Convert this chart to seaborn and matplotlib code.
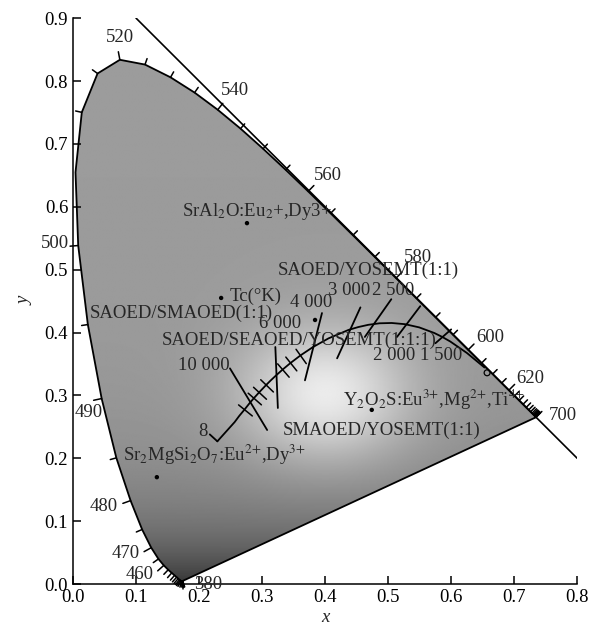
import numpy as np
import pandas as pd
import matplotlib
matplotlib.use("Agg")
import matplotlib.pyplot as plt
import seaborn as sns
from matplotlib.patches import Polygon

# CIE 1931 spectral locus, 5 nm steps
wavelength = list(range(380, 705, 5))
locus_x = [0.1741, 0.1740, 0.1738, 0.1736, 0.1733, 0.1730, 0.1726, 0.1721, 0.1714, 0.1703,
           0.1689, 0.1669, 0.1644, 0.1611, 0.1566, 0.1510, 0.1440, 0.1355, 0.1241, 0.1096,
           0.0913, 0.0687, 0.0454, 0.0235, 0.0082, 0.0039, 0.0139, 0.0389, 0.0743, 0.1142,
           0.1547, 0.1929, 0.2296, 0.2658, 0.3016, 0.3373, 0.3731, 0.4087, 0.4441, 0.4788,
           0.5125, 0.5448, 0.5752, 0.6029, 0.6270, 0.6482, 0.6658, 0.6801, 0.6915, 0.7006,
           0.7079, 0.7140, 0.7190, 0.7230, 0.7260, 0.7283, 0.7300, 0.7311, 0.7320, 0.7327,
           0.7334, 0.7340, 0.7344, 0.7346, 0.7347]
locus_y = [0.0050, 0.0050, 0.0049, 0.0049, 0.0048, 0.0048, 0.0048, 0.0048, 0.0051, 0.0058,
           0.0069, 0.0086, 0.0109, 0.0138, 0.0177, 0.0227, 0.0297, 0.0399, 0.0578, 0.0868,
           0.1327, 0.2007, 0.2950, 0.4127, 0.5384, 0.6548, 0.7502, 0.8120, 0.8338, 0.8262,
           0.8059, 0.7816, 0.7543, 0.7243, 0.6923, 0.6589, 0.6245, 0.5896, 0.5547, 0.5202,
           0.4866, 0.4544, 0.4242, 0.3965, 0.3725, 0.3514, 0.3340, 0.3197, 0.3083, 0.2993,
           0.2920, 0.2859, 0.2809, 0.2770, 0.2740, 0.2717, 0.2700, 0.2689, 0.2680, 0.2673,
           0.2666, 0.2660, 0.2656, 0.2654, 0.2653]
label_wl = [380, 460, 470, 480, 490, 500, 520, 540, 560, 580, 600, 620, 700]

# Planckian locus
planck_T = [1000, 1200, 1400, 1500, 1600, 1800, 2000, 2200, 2400, 2600, 2800, 3000, 3500,
            4000, 4500, 5000, 5500, 6000, 6500, 7000, 8000, 9000, 10000, 12000, 15000, 20000, "inf"]
planck_x = [0.6528, 0.6251, 0.5985, 0.5857, 0.5732, 0.5493, 0.5267, 0.5056, 0.4862, 0.4685,
            0.4525, 0.4369, 0.4053, 0.3805, 0.3608, 0.3451, 0.3325, 0.3221, 0.3135, 0.3064,
            0.2952, 0.2869, 0.2807, 0.2720, 0.2637, 0.2565, 0.2290]
planck_y = [0.3444, 0.3674, 0.3858, 0.3931, 0.3993, 0.4082, 0.4133, 0.4152, 0.4147, 0.4123,
            0.4087, 0.4041, 0.3907, 0.3768, 0.3636, 0.3516, 0.3411, 0.3318, 0.3237, 0.3166,
            0.3048, 0.2956, 0.2884, 0.2774, 0.2674, 0.2577, 0.2270]
minor_T = [4500, 5000, 5500, 7000, 8000, 9000, 12000]

# isotherm lines
iso_T = ["inf", 10000, 6000, 4000, 3000, 2500, 2000, 1500]
iso_x0 = [0.217, 0.249, 0.321, 0.395, 0.456, 0.505, 0.551, 0.600]
iso_y0 = [0.238, 0.343, 0.377, 0.431, 0.440, 0.453, 0.442, 0.405]
iso_x1 = [0.229, 0.308, 0.325, 0.368, 0.419, 0.463, 0.514, 0.575]
iso_y1 = [0.227, 0.245, 0.280, 0.324, 0.359, 0.393, 0.393, 0.383]

# phosphor chromaticity points
pt_x = [0.276, 0.235, 0.384, 0.474, 0.133]
pt_y = [0.574, 0.455, 0.420, 0.277, 0.170]
open_x = [0.657]
open_y = [0.336]

annotations = [
    ("SrAl$_2$O:Eu$_2$+,Dy3+", 0.173, 0.593),
    ("Tc(°K)", 0.248, 0.458),
    ("SAOED/SMAOED(1:1)", 0.027, 0.431),
    ("SAOED/YOSEMT(1:1)", 0.325, 0.499),
    ("SAOED/SEAOED/YOSEMT(1:1:1)", 0.140, 0.388),
    ("3 000", 0.405, 0.467),
    ("2 500", 0.474, 0.467),
    ("4 000", 0.344, 0.447),
    ("6 000", 0.295, 0.415),
    ("10 000", 0.167, 0.348),
    ("2 000 1 500", 0.476, 0.364),
    ("Y$_2$O$_2$S:Eu$^{3{+}}$,Mg$^{2{+}}$,Ti$^{4{+}}$", 0.429, 0.293),
    ("SMAOED/YOSEMT(1:1)", 0.333, 0.245),
    ("Sr$_2$MgSi$_2$O$_7$:Eu$^{2{+}}$,Dy$^{3{+}}$", 0.079, 0.205),
]

# label offset from the locus point (data units)
label_offset = {380: (0.041, -0.006), 460: (-0.039, -0.014), 470: (-0.041, -0.009),
                480: (-0.043, -0.009), 490: (-0.021, -0.022), 500: (-0.037, 0.003),
                520: (0.0, 0.036), 540: (0.027, 0.031), 560: (0.032, 0.026),
                580: (0.035, 0.032), 600: (0.035, 0.020), 620: (0.034, 0.019),
                700: (0.043, 0.002)}

sns.set_theme(style="ticks")
plt.rcParams["font.family"] = ["Liberation Serif", "DejaVu Serif"]
plt.rcParams["mathtext.fontset"] = "stix"
fs = 13.5

fig = plt.figure(figsize=(5.89, 6.26), dpi=100)
ax = fig.add_axes([0.124, 0.067, 0.856, 0.904])

locus = pd.DataFrame({"wl": wavelength, "x": locus_x, "y": locus_y})
planck = pd.DataFrame({"T": planck_T, "x": planck_x, "y": planck_y})

# grey shading of the colour gamut: light near the white point, dark towards violet
gx, gy = np.meshgrid(np.linspace(0, 0.8, 400), np.linspace(0, 0.9, 450))
glow = np.exp(-((gx - 0.40) ** 2 / (2 * 0.095 ** 2) + (gy - 0.30) ** 2 / (2 * 0.075 ** 2)))
shade = np.exp(-gy / 0.1)
gray = np.clip(0.61 + 0.33 * glow - 0.40 * shade, 0, 1)

patch = Polygon(np.column_stack([locus["x"], locus["y"]]), closed=True,
                facecolor="none", edgecolor="none")
ax.add_patch(patch)
im = ax.imshow(gray, cmap="gray", vmin=0, vmax=1, extent=[0, 0.8, 0, 0.9],
               origin="lower", aspect="auto", interpolation="bilinear")
im.set_clip_path(patch)

# spectral locus and purple line
closed = pd.concat([locus, locus.iloc[[0]]], ignore_index=True)
sns.lineplot(data=closed, x="x", y="y", sort=False, estimator=None, color="black",
             lw=1.3, ax=ax)

# x + y = 1 line
ax.plot([0.1, 0.8], [0.9, 0.2], color="black", lw=1.2)

# ticks on the locus, pointing outwards
lx = np.array(locus_x)
ly = np.array(locus_y)
dx = np.gradient(lx)
dy = np.gradient(ly)
for i, wl in enumerate(wavelength):
    n = np.array([-dy[i], dx[i]])
    if np.hypot(*n) < 1e-6:
        n = np.array([0.5, -1.0])
    n = n / np.hypot(*n)
    ln = 0.013 if wl in label_wl else 0.010
    if wl == 505:
        continue
    ax.plot([lx[i], lx[i] + n[0] * ln], [ly[i], ly[i] + n[1] * ln], color="black", lw=1.1,
            clip_on=False)
    if wl in label_wl:
        ox, oy = label_offset[wl]
        ax.text(lx[i] + ox, ly[i] + oy, str(wl), fontsize=fs, ha="center", va="center")

# Planckian locus
sns.lineplot(data=planck, x="x", y="y", sort=False, estimator=None, color="black",
             lw=1.3, ax=ax)
px = np.array(planck_x)
py = np.array(planck_y)
pdx = np.gradient(px)
pdy = np.gradient(py)
for T in minor_T:
    i = planck_T.index(T)
    n = np.array([-pdy[i], pdx[i]])
    n = n / np.hypot(*n)
    ax.plot([px[i] - n[0] * 0.012, px[i] + n[0] * 0.016],
            [py[i] - n[1] * 0.012, py[i] + n[1] * 0.016], color="black", lw=1.1)

for x0, y0, x1, y1 in zip(iso_x0, iso_y0, iso_x1, iso_y1):
    ax.plot([x0, x1], [y0, y1], color="black", lw=1.3)

sns.scatterplot(x=pt_x, y=pt_y, color="black", s=10, edgecolor="none", ax=ax, zorder=5)
sns.scatterplot(x=open_x, y=open_y, facecolor="none", edgecolor="black", s=18,
                linewidth=0.9, ax=ax, zorder=5)

for txt, tx, ty in annotations:
    ax.text(tx, ty, txt, fontsize=fs, ha="left", va="center")
ax.text(0.213, 0.242, "8", fontsize=fs, ha="right", va="center")

ax.set_xlim(0, 0.8)
ax.set_ylim(0, 0.9)
ax.set_xticks(np.arange(0, 0.81, 0.1))
ax.set_yticks(np.arange(0, 0.91, 0.1))
ax.set_xticklabels([f"{v:.1f}" for v in np.arange(0, 0.81, 0.1)])
ax.set_yticklabels([f"{v:.1f}" for v in np.arange(0, 0.91, 0.1)])
ax.tick_params(direction="in", length=6, width=1.1, labelsize=fs, colors="black")
for s in ["top", "right"]:
    ax.spines[s].set_visible(False)
for s in ["left", "bottom"]:
    ax.spines[s].set_linewidth(1.1)
    ax.spines[s].set_color("black")
ax.set_xlabel("x", fontsize=fs, style="italic", labelpad=2)
ax.set_ylabel("y", fontsize=fs, style="italic", labelpad=8)
ax.set_facecolor("white")

fig.savefig("out.png", dpi=100)
